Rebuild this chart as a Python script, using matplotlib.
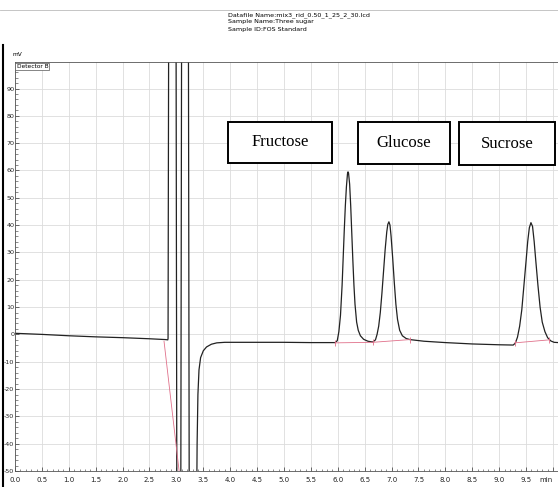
import matplotlib.pyplot as plt
import numpy as np
from matplotlib.patches import Rectangle
from matplotlib.lines import Line2D
from matplotlib.ticker import MultipleLocator

# chromatogram trace (time [min], signal [mV])
t_trace = [0.00, 0.50, 1.00, 1.50, 2.00, 2.50, 2.80, 2.84,
           2.845, 2.86, 2.99, 3.01, 3.08, 3.10, 3.22, 3.24, 3.37,
           3.385, 3.40, 3.42, 3.45, 3.50, 3.56, 3.65, 3.75, 3.90,
           4.50, 5.00, 5.50, 5.95,
           # fructose
           5.99, 6.02, 6.05, 6.08, 6.10, 6.12, 6.14, 6.16, 6.18, 6.19,
           6.20, 6.22, 6.24, 6.26, 6.28, 6.30, 6.32, 6.35, 6.38, 6.42,
           6.48, 6.56, 6.65,
           # glucose
           6.70, 6.73, 6.76, 6.79, 6.82, 6.85, 6.88, 6.91, 6.93, 6.95,
           6.97, 6.99, 7.02, 7.05, 7.08, 7.11, 7.15, 7.20, 7.27, 7.34,
           7.60, 8.00, 8.50, 9.00, 9.26,
           # sucrose
           9.30, 9.34, 9.38, 9.42, 9.46, 9.50, 9.53, 9.56, 9.59, 9.62,
           9.65, 9.68, 9.72, 9.76, 9.80, 9.85, 9.90, 9.96, 10.02, 10.10]
y_trace = [0.4, 0.0, -0.5, -0.9, -1.2, -1.6, -1.9, -2.0,
           -1.5, 150, 150, -80, -80, 150, 150, -80, -80,
           -40, -22, -13, -8.5, -6.0, -4.6, -3.6, -3.1, -2.9,
           -2.9, -2.9, -3.0, -3.0,
           -2.3, 1.0, 7.0, 18, 28, 38, 47, 54, 58.8, 59.5,
           59, 55, 47, 37, 27, 18, 11, 4.5, 1.5, -0.5,
           -1.8, -2.5, -2.8,
           -2.0, 0.0, 3.0, 8.0, 15, 23, 31, 37.5, 40.3, 41.2,
           40, 36, 28, 19, 11, 5.5, 1.5, -0.5, -1.5, -1.9,
           -2.5, -3.0, -3.5, -3.8, -3.9,
           -3.2, -1.0, 3.0, 9.0, 18, 27, 34, 39, 40.9, 39.5,
           34, 27, 18, 10, 4.5, 1.0, -1.2, -2.4, -2.9, -3.0]

# integration baselines (red)
red_left_t = [2.77, 3.08]
red_left_y = [-2.5, -55]
red_fg_t = [5.95, 6.65, 7.34]
red_fg_y = [-3.1, -2.9, -1.9]
red_s_t = [9.29, 9.93]
red_s_y = [-3.1, -2.0]

x_ticks = np.arange(0, 10.01, 0.5)
x_labels = ["%.1f" % v for v in x_ticks[:-1]] + ["min"]
y_ticks = np.arange(-50, 91, 10)

header = ["Datafile Name:mix3_rid_0.50_1_25_2_30.lcd",
          "Sample Name:Three sugar",
          "Sample ID:FOS Standard"]
sugar_names = ["Fructose", "Glucose", "Sucrose"]

small_font = ["Liberation Sans Narrow", "DejaVu Sans"]

W, H = 558, 487
fig = plt.figure(figsize=(W / 100, H / 100), dpi=100)
ax = fig.add_axes([15 / W, 1 - 471 / H, (W - 15) / W, (471 - 62) / H])

ax.plot(t_trace, y_trace, color="#222222", lw=0.9)
red = "#e0708a"
ax.plot(red_left_t, red_left_y, color=red, lw=0.6)
ax.plot(red_fg_t, red_fg_y, color=red, lw=0.6)
ax.plot(red_s_t, red_s_y, color=red, lw=0.6)
ax.plot(red_fg_t + red_s_t, red_fg_y + red_s_y, ls="none", marker="|",
        color=red, ms=4, mew=0.6)

ax.set_xlim(0, 10.093)
ax.set_ylim(-49.6, 99.7)
ax.set_xticks(x_ticks)
ax.set_xticklabels(x_labels, family=small_font, fontsize=5)
ax.get_xticklabels()[-1].set_ha("right")
ax.set_yticks(y_ticks)
ax.set_yticklabels([str(v) for v in y_ticks], family=small_font, fontsize=4.6)
ax.xaxis.set_minor_locator(MultipleLocator(0.1))
ax.yaxis.set_minor_locator(MultipleLocator(2))
ax.tick_params(which="both", direction="in", colors="#333333")
ax.tick_params(axis="x", pad=4, labelcolor="#222222")
ax.tick_params(axis="y", pad=0.5, labelcolor="#222222")
ax.tick_params(which="major", length=3, width=0.5)
ax.tick_params(which="minor", length=1.8, width=0.4)
ax.grid(True, which="major", color="#dcdcdc", lw=0.6)
ax.set_axisbelow(True)
for side in ["left", "bottom", "top"]:
    ax.spines[side].set_color("#555555")
    ax.spines[side].set_linewidth(0.6)
ax.spines["right"].set_visible(False)

ax.text(0.003, 0.995, "Detector B", transform=ax.transAxes, fontsize=4.2,
        family=small_font, va="top", ha="left",
        bbox=dict(boxstyle="square,pad=0.2", fc="white", ec="#555555", lw=0.5))
fig.text(12 / W, 1 - 55 / H, "mV", fontsize=4.2, family=small_font,
         va="center", ha="left")

# thick bar on the left edge
fig.add_artist(Line2D([3.2 / W, 3.2 / W], [0, 1 - 45 / H], color="black",
                      lw=1.5, zorder=-1))
# header rule and text
fig.add_artist(Line2D([0, 1], [1 - 10 / H, 1 - 10 / H], color="#bbbbbb", lw=0.6))
for i, line in enumerate(header):
    fig.text(228 / W, 1 - (15 + 7 * i) / H, line, fontsize=4.6,
             family=small_font, va="center", ha="left")

# label boxes
boxes = [(228, 122, 332, 163), (358, 122, 450, 164), (459, 122, 555, 165)]
for name, (x0, y0, x1, y1) in zip(sugar_names, boxes):
    fig.add_artist(Rectangle((x0 / W, 1 - y1 / H), (x1 - x0) / W, (y1 - y0) / H,
                             fill=True, fc="white", ec="black", lw=1.4))
    fig.text((x0 + x1) / 2 / W, 1 - (y0 + y1) / 2 / H, name,
             family="Liberation Serif", fontsize=12, ha="center", va="center")

plt.savefig("out.png", dpi=100)
